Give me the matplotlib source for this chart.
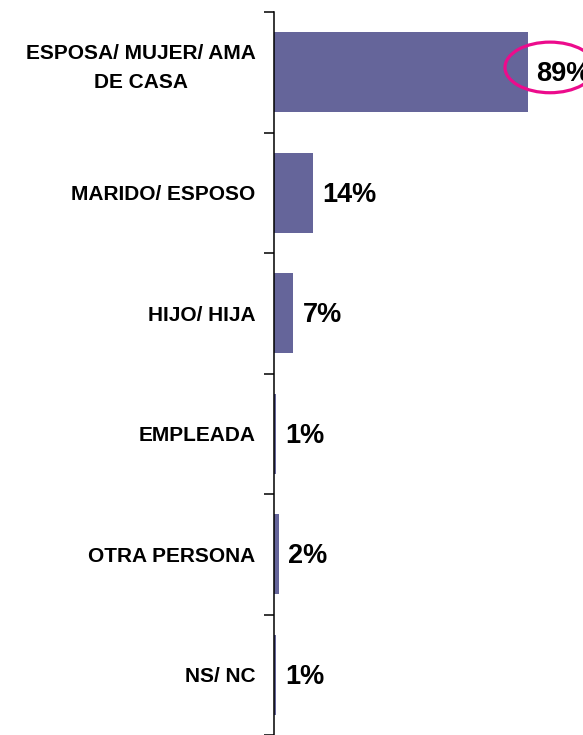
import matplotlib
matplotlib.use("Agg")
import matplotlib.pyplot as plt
import matplotlib.transforms as mtransforms
from matplotlib.patches import Ellipse

categories = ["ESPOSA/ MUJER/ AMA\nDE CASA", "MARIDO/ ESPOSO", "HIJO/ HIJA",
              "EMPLEADA", "OTRA PERSONA", "NS/ NC"]
values = [89, 14, 7, 1, 2, 1]
value_labels = ["89%", "14%", "7%", "1%", "2%", "1%"]

plt.rcParams['font.family'] = ['Liberation Sans', 'DejaVu Sans']

W, H = 583, 735
fig = plt.figure(figsize=(W / 100, H / 100), dpi=100)
ax_left = 273.5 / W
ax_top = 12 / H
ax = fig.add_axes([ax_left, 0, 1 - ax_left, 1 - ax_top])

px_per_unit = 2.855
xmax = (W - 273.5) / px_per_unit
bar_color = "#65659A"

ypos = list(range(len(categories)))
ax.barh(ypos, values, height=0.66, color=bar_color, zorder=2)

ax.set_xlim(0, xmax)
ax.set_ylim(len(categories) - 0.5, -0.5)

for sp in ["top", "right", "bottom"]:
    ax.spines[sp].set_visible(False)
ax.spines["left"].set_linewidth(1.1)
ax.spines["left"].set_color("black")
ax.set_xticks([])

# boundary ticks
ax.set_yticks([i - 0.5 for i in range(len(categories) + 1)])
ax.set_yticklabels([])
ax.tick_params(axis="y", which="major", length=7, width=1.1, direction="out", color="black")

# category labels
for y, cat in zip(ypos, categories):
    dy = 4 if "\n" in cat else -2
    tr = mtransforms.offset_copy(ax.transData, fig=fig, x=-18, y=dy, units="dots")
    ax.text(0, y, cat, transform=tr, ha="right", va="center", multialignment="center",
            fontsize=15, fontweight="bold", linespacing=1.65, color="black", clip_on=False)

for y, v, lab in zip(ypos, values, value_labels):
    ax.annotate(lab, xy=(v, y), xytext=(6.5, -1.5), textcoords="offset points",
                ha="left", va="center", fontsize=19.5, fontweight="bold",
                color="black", annotation_clip=False)

# highlight ellipse around top value
ell = Ellipse(((550 - 273.5) / px_per_unit, -0.04), width=90 / px_per_unit,
              height=0.42, fill=False, edgecolor="#EC0B8C", linewidth=2.3,
              clip_on=False, zorder=3)
ax.add_patch(ell)

fig.savefig("out.png", dpi=100, facecolor="white")
